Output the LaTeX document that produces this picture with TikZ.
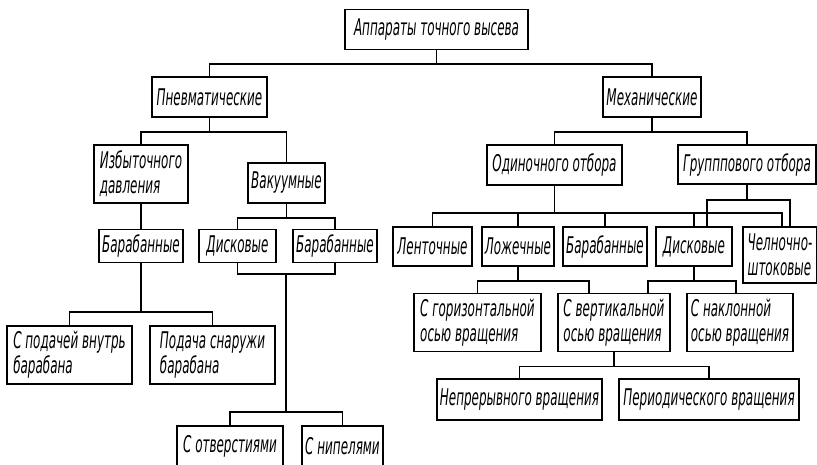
\documentclass[tikz,border=0pt]{standalone}
\usepackage{fontspec}
\setmainfont{DejaVu Sans}[FakeStretch=0.52]
\usepackage{tikz}
\usetikzlibrary{positioning,calc}

\begin{document}
\begin{tikzpicture}[x=1pt,y=-1pt,line width=1.8pt,
  box/.style={draw,rectangle,inner xsep=3pt,inner ysep=0pt,minimum height=40pt,
    font=\fontsize{23}{25}\selectfont\itshape},
  tbox/.style={box,align=left,minimum height=58pt}]
\useasboundingbox (0,0) rectangle (817,464);

\node[box,minimum width=183pt] (top) at (436.5,29.5) {Аппараты точного высева};
\node[box,minimum width=115pt] (pnev) at (209.5,97) {Пневматические};
\node[box,minimum width=98pt] (mech) at (652,97) {Механические};

\node[tbox,minimum width=94pt] (izb) at (141,174) {Избыточного\\давления};
\node[box,minimum width=77pt] (vak) at (286.5,183) {Вакуумные};
\node[box,minimum width=82pt,minimum height=33pt] (bar1) at (141,246) {Барабанные};
\node[box,minimum width=77pt,minimum height=33pt] (disk1) at (237.5,246) {Дисковые};
\node[box,minimum width=82pt,minimum height=33pt] (bar2) at (335,246) {Барабанные};
\node[tbox,minimum width=125pt] (podv) at (69.5,355) {С подачей внутрь\\барабана};
\node[tbox,minimum width=125pt] (podn) at (212.5,355) {Подача снаружи\\барабана};
\node[box,minimum width=106pt] (otv) at (230,446) {С отверстиями};
\node[box,minimum width=81pt] (nip) at (342.5,446) {С нипелями};

\node[box,minimum width=135pt] (odin) at (554.5,165) {Одиночного отбора};
\node[box,minimum width=138pt,minimum height=39pt] (grup) at (747,164.5) {Групппового отбора};
\node[box,minimum width=79pt,minimum height=39pt] (lent) at (432.5,246.5) {Ленточные};
\node[box,minimum width=72pt,minimum height=39pt] (lozh) at (518,246.5) {Ложечные};
\node[box,minimum width=82pt,minimum height=39pt] (bar3) at (605,246.5) {Барабанные};
\node[box,minimum width=76pt,minimum height=39pt] (disk2) at (694,246.5) {Дисковые};
\node[tbox,minimum width=74pt,minimum height=56pt] (chel) at (780,255) {Челночно-\\штоковые};
\node[tbox,minimum width=127pt] (gor) at (477.5,322.5) {С горизонтальной\\осью вращения};
\node[tbox,minimum width=112pt] (vert) at (614,322.5) {С вертикальной\\осью вращения};
\node[tbox,minimum width=106pt] (nakl) at (740,322.5) {С наклонной\\осью вращения};
\node[box,minimum width=165pt,minimum height=41pt] (nepr) at (519.5,399.5) {Непрерывного вращения};
\node[box,minimum width=180pt,minimum height=41pt] (per) at (709,399.5) {Периодического вращения};

\draw (top.south) -- ++(0,13.5) coordinate (j1);
\draw (pnev.north) |- (j1) -| (mech.north);
\draw (pnev.south) -- ++(0,14) coordinate (j2);
\draw (izb.north) |- (j2) -| (vak.north);
\draw (izb.south) -- (bar1.north);
\draw (vak.south) -- ++(0,14) coordinate (j3);
\draw (disk1.north) |- (j3) -| (bar2.north);
\draw (bar1.south) -- ++(0,48.5) coordinate (j4);
\draw (podv.north) |- (j4) -| (podn.north);
\coordinate (j5) at (286,274);
\coordinate (j6) at (286,412);
\draw (disk1.south) |- (j5) -| (bar2.south);
\draw (j5) -- (j6);
\draw (otv.north) |- (j6) -| (nip.north);

\draw (mech.south) -- ++(0,14) coordinate (j7);
\draw (odin.north) |- (j7) -| (grup.north);
\draw (odin.south) -- ++(0,27) coordinate (j8);
\draw (lent.north) |- (j8) -| ([xshift=2pt]chel.north);
\foreach \n in {lozh,bar3,disk2}
  \draw (\n.north) -- (\n.north |- j8);
\draw (grup.south) -- ++(0,15) coordinate (j9);
\draw ([xshift=13pt]disk2.north) |- (j9) -| ([xshift=10pt]chel.north);
\draw (lozh.south) -- ++(0,14) coordinate (j10);
\draw (gor.north) |- (j10) -| ([xshift=-25pt]vert.north);
\draw (disk2.south) -- ++(0,14) coordinate (j11);
\draw ([xshift=34pt]vert.north) |- (j11) -| ([xshift=-4pt]nakl.north);
\draw (vert.south) -- ++(0,14) coordinate (j12);
\draw (nepr.north) |- (j12) -| (per.north);
\end{tikzpicture}
\end{document}
